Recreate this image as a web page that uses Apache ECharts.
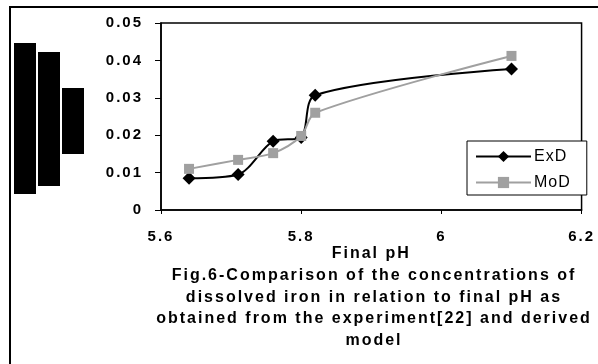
<!DOCTYPE html>
<html>
<head>
<meta charset="utf-8">
<style>html,body{margin:0;padding:0;background:#fff}#c{width:598px;height:364px}</style>
<script>
(function(){
  var P = CanvasRenderingContext2D.prototype;
  if (!('letterSpacing' in P)) return;
  var desc = Object.getOwnPropertyDescriptor(P, 'font');
  Object.defineProperty(P, 'font', {
    configurable: true,
    get: function(){ return desc.get.call(this); },
    set: function(v){
      desc.set.call(this, v);
      this.letterSpacing = /bold|700/.test(String(v)) ? '2px' : '1px';
    }
  });
})();
</script>
<script src="https://cdn.jsdelivr.net/npm/echarts@6/dist/echarts.min.js"></script>
</head>
<body>
<div id="c"></div>
<script>
var xTicks = [5.6, 5.8, 6, 6.2];
var yTicks = [0, 0.01, 0.02, 0.03, 0.04, 0.05];
var finalPH = [5.64, 5.71, 5.76, 5.80, 5.82, 6.10];
var exD = [0.0085, 0.0095, 0.0184, 0.0194, 0.0307, 0.0377];
var moD = [0.0110, 0.0134, 0.0152, 0.0198, 0.0260, 0.0412];
var seriesNames = ['ExD', 'MoD'];
var xName = 'Final pH';
var caption = 'Fig.6-Comparison of the concentrations of\ndissolved iron in relation to final pH as\nobtained from the experiment[22] and derived\nmodel';

var FONT = 'Liberation Sans, Arial, sans-serif';
function pairs(xs, ys){ return xs.map(function(x,i){ return [x, ys[i]]; }); }

var chart = echarts.init(document.getElementById('c'), null, {renderer:'canvas'});
chart.setOption({
  animation: false,
  backgroundColor: '#fff',
  title: {
    text: caption, left: 374, top: 265, padding: 0, textAlign: 'center',
    textStyle: {fontFamily: FONT, fontWeight: 'bold', fontSize: 16, lineHeight: 21.5, color: '#000'}
  },
  grid: {left: 161, right: 11, top: 23, bottom: 154, show: true, borderColor: '#000', borderWidth: 1.5, containLabel: false},
  xAxis: {
    type: 'value', min: xTicks[0], max: xTicks[xTicks.length-1], interval: 0.2,
    name: xName, nameLocation: 'middle', nameGap: 35, nameMoveOverlap: false,
    nameTextStyle: {fontFamily: FONT, fontWeight: 'bold', fontSize: 16, color: '#000'},
    axisLine: {lineStyle: {color: '#000', width: 1.5}},
    axisTick: {show: true, inside: false, length: 4, lineStyle: {color: '#000'}},
    axisLabel: {fontFamily: FONT, fontWeight: 'bold', fontSize: 15, color: '#000', margin: 18,
      formatter: function(v){ return String(+v.toFixed(2)); }},
    splitLine: {show: false}
  },
  yAxis: {
    type: 'value', min: yTicks[0], max: yTicks[yTicks.length-1], interval: 0.01,
    axisLine: {show: true, lineStyle: {color: '#000', width: 1.5}},
    axisTick: {show: true, inside: false, length: 6, lineStyle: {color: '#000'}},
    axisLabel: {fontFamily: FONT, fontWeight: 'bold', fontSize: 15, color: '#000', margin: 18,
      formatter: function(v){ return String(+v.toFixed(3)); }},
    splitLine: {show: false}
  },
  legend: {
    orient: 'vertical', left: 467, top: 141, padding: [7, 16, 4, 8],
    itemWidth: 55, itemHeight: 14, itemGap: 9,
    backgroundColor: '#fff', borderColor: '#000', borderWidth: 1,
    textStyle: {fontFamily: FONT, fontSize: 16, color: '#000', padding: [0,0,0,-2]},
    data: seriesNames
  },
  graphic: [
    {type: 'rect', shape: {x: 10, y: 7, width: 700, height: 500}, style: {fill: 'none', stroke: '#000', lineWidth: 2}, silent: true},
    {type: 'rect', shape: {x: 14, y: 43, width: 22, height: 151}, style: {fill: '#000'}, silent: true},
    {type: 'rect', shape: {x: 38, y: 52, width: 22, height: 134}, style: {fill: '#000'}, silent: true},
    {type: 'rect', shape: {x: 62, y: 88, width: 22, height: 66}, style: {fill: '#000'}, silent: true}
  ],
  series: [
    {name: seriesNames[0], type: 'line', data: pairs(finalPH, exD), smooth: 0.3,
     symbol: 'diamond', symbolSize: 13,
     lineStyle: {color: '#000', width: 2}, itemStyle: {color: '#000'}},
    {name: seriesNames[1], type: 'line', data: pairs(finalPH, moD), smooth: 0.3,
     symbol: 'rect', symbolSize: 10,
     lineStyle: {color: '#a0a0a0', width: 2}, itemStyle: {color: '#a0a0a0'}}
  ]
});
</script>
</body>
</html>
